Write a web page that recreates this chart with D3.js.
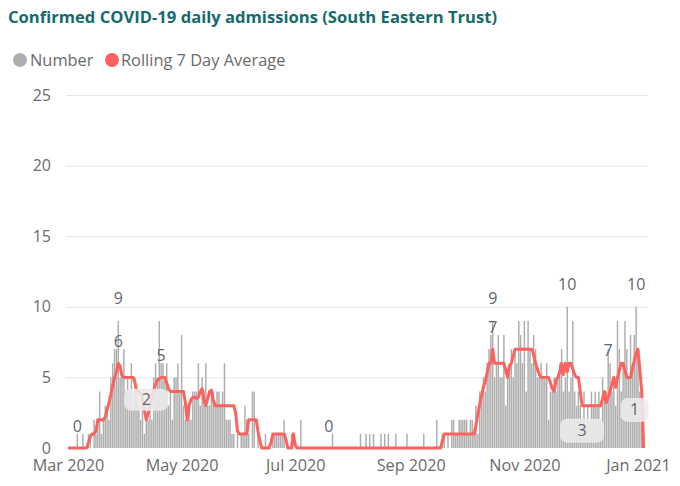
<!DOCTYPE html>
<html>
<head>
<meta charset="utf-8">
<script src="https://cdn.jsdelivr.net/npm/d3@7"></script>
<style>
  html, body { margin: 0; padding: 0; background: #fff; }
  svg { display: block; font-family: "Segoe UI", "Open Sans", "Noto Sans", sans-serif; }
</style>
</head>
<body>
<svg id="chart" width="680" height="486"></svg>
<script>
// Daily confirmed admissions, one array per month, starting 1 March 2020
const marCounts = [0,0,0,0,0,1,0,0,1,0, 0,1,1,0,2,1,2,4,1,2, 3,3,2,5,6,7,7,9,5,5, 7];
const aprCounts = [4,5,4,6,3,5,4,3,2,4, 1,2,2,3,2,5,6,5,9,6, 6,5,6,3,4,2,5,5,6,4];
const mayCounts = [8,3,2,2,3,2,4,4,4,6, 3,5,4,6,3,3,4,4,3,4, 4,3,4,6,2,2,2,1,1,0, 1];
const junCounts = [0,1,1,3,2,1,0,4,4,0, 1,0,0,0,1,0,0,0,1,1, 1,1,1,1,2,0,0,0,1,0];
const julCounts = [0,0,0,2,0,0,0,0,0,0, 0,0,0,0,0,0,0,0,0,0, 1,0,0,0,0,0,0,0,0,0, 0];
const augCounts = [0,0,0,0,1,0,0,1,0,1, 0,1,0,0,0,1,0,1,0,1, 0,0,0,1,0,0,0,0,0,1, 0];
const sepCounts = [0,0,0,0,0,0,0,1,0,0, 0,0,0,0,2,0,0,1,1,0, 1,0,2,2,1,1,2,2,2,2];
const octCounts = [2,1,2,2,1,3,1,4,4,5, 4,6,7,8,9,5,6,8,5,5, 8,3,5,6,7,5,7,6,9,8, 6];
const novCounts = [9,4,9,7,6,8,7,5,5,6, 5,5,6,2,4,4,5,4,5,6, 7,4,5,10,4,5,9,4,3,4];
const decCounts = [3,2,4,2,3,2,4,3,4,3, 4,2,5,4,4,7,6,4,5,3, 9,7,4,6,9,7,5,8,6,8, 10];
const janCounts = [7,4,3,1];

// Rolling 7 day average, same days
const marAverage = [0,0,0,0,0,0,0,0,0,0, 0,0.4,0.8,1,1,1.2,2,2,2,2, 2.2,2.7,3.2,3.8,4.4,5,5.4,6,5.8,5.1, 5];
const aprAverage = [5,5,5,5,5,4.6,4,4,3.9,3.4, 2.7,2,2.4,3,3.6,4.1,4.5,4.8,4.9,5, 5,5,4.6,4.2,4,4,4,4,4,4];
const mayAverage = [4,4,3.2,2,3,3.4,3.6,3.6,3.5,3.6, 4,4.2,3.4,3,3.5,4,4.1,3.4,3,3, 3,3,3,3,3,3,3,3,3,2.5, 1.2];
const junAverage = [1,1,1,1,1,2,2,2,2,2, 1.2,0.5,0,0,0,0,0,0.4,1,1, 1,1,1,1,1,0.6,0,0,0,1];
const julAverage = [0.2,0,0,0,0,0,0,0,0,0, 0,0,0,0,0,0,0,0,0,0, 0,0,0,0,0,0,0,0,0,0, 0];
const augAverage = [0,0,0,0,0,0,0,0,0,0, 0,0,0,0,0,0,0,0,0,0, 0,0,0,0,0,0,0,0,0,0, 0];
const sepAverage = [0,0,0,0,0,0,0,0,0,0, 0,0,0,0,0,0,0,0.5,1,1, 1,1,1,1,1,1,1,1,1,1];
const octAverage = [1,1,1,1,1,1.6,2.4,3.1,3.7,4.3, 4.7,5.3,6,6,7,6,6,6,6,6, 6,5.5,5,5.8,6,6.5,7,7,7,7, 7];
const novAverage = [7,7,7,7,7,6.6,6,5.6,5.2,5, 5,5,5,5,4.6,4.2,4,4.8,5,5.4, 6,5.2,6,5.4,6,6,5.6,5.2,5,5];
const decAverage = [4,3,3,3,3,3,3,3,3,3, 3,3,3.5,4,3.2,3.6,4,4.5,5,4.3, 5,5.5,6,6,5.5,5,5,5,5.6,6.2, 6.7];
const janAverage = [7,5.5,4,0];

// Axis ticks
const yTicks = [0, 5, 10, 15, 20, 25];
const xTickDates = ["2020-03-01", "2020-05-01", "2020-07-01", "2020-09-01", "2020-11-01", "2021-01-01"];
const legendItems = ["Number", "Rolling 7 Day Average"];

// Data labels: day index from 1 March 2020 and the series whose value is shown
const labelDays   = [5,     27,     27,    42,    50,    140,   228,    228,   268,    276,   290,    305,    309];
const labelSeries = ["avg", "count","avg", "avg", "avg", "avg", "count","avg", "count","avg", "count","count","count"];

const counts = [].concat(marCounts, aprCounts, mayCounts, junCounts, julCounts, augCounts,
                         sepCounts, octCounts, novCounts, decCounts, janCounts);
const averages = [].concat(marAverage, aprAverage, mayAverage, junAverage, julAverage, augAverage,
                           sepAverage, octAverage, novAverage, decAverage, janAverage);
const firstDay = new Date(2020, 2, 1);
const rows = counts.map((c, i) => ({ date: d3.timeDay.offset(firstDay, i), count: c, avg: averages[i] }));

const svg = d3.select("#chart");
const parse = d3.timeParse("%Y-%m-%d");
const fontStack = "\"Segoe UI\", \"Open Sans\", \"Noto Sans\", sans-serif";

const x = d3.scaleTime()
  .domain([parse("2020-03-01"), parse("2021-01-01")])
  .range([68, 638]);
const y = d3.scaleLinear().domain([0, 25]).range([448, 95]);

const grey = "#adadad";
const red = "#fd625e";
const textGrey = "#6b6b6b";

// Title
svg.append("text")
  .attr("x", 8).attr("y", 23)
  .attr("font-size", 16.6).attr("font-weight", 700)
  .attr("fill", "#156b6b")
  .text("Confirmed COVID-19 daily admissions (South Eastern Trust)");

// Legend
const legend = svg.append("g").attr("font-size", 16.4).attr("fill", textGrey);
legend.append("circle").attr("cx", 20).attr("cy", 60).attr("r", 7).attr("fill", grey);
legend.append("text").attr("x", 30).attr("y", 66).text(legendItems[0]);
legend.append("circle").attr("cx", 112).attr("cy", 60).attr("r", 7).attr("fill", red);
legend.append("text").attr("x", 121).attr("y", 66).text(legendItems[1]);

// Gridlines
svg.append("g")
  .selectAll("line")
  .data(yTicks.filter(t => t > 0))
  .join("line")
  .attr("x1", 66).attr("x2", 648)
  .attr("y1", d => y(d) + 0.5).attr("y2", d => y(d) + 0.5)
  .attr("stroke", "#e6e6e6").attr("stroke-width", 1);

// Y axis
const yAxis = svg.append("g")
  .attr("transform", "translate(51,0)")
  .call(d3.axisLeft(y).tickValues(yTicks).tickSize(0).tickPadding(0));
yAxis.select(".domain").remove();
yAxis.selectAll("text")
  .attr("font-size", 16).attr("fill", textGrey)
  .attr("font-family", fontStack);

// X axis
const xAxis = svg.append("g")
  .attr("transform", "translate(0,458)")
  .call(d3.axisBottom(x).tickValues(xTickDates.map(parse)).tickFormat(d3.timeFormat("%b %Y")).tickSize(0).tickPadding(1));
xAxis.select(".domain").remove();
xAxis.selectAll("text")
  .attr("font-size", 16.2).attr("fill", textGrey)
  .attr("font-family", fontStack);

// Daily bars
const dayStep = x(d3.timeDay.offset(firstDay, 1)) - x(firstDay);
const barW = dayStep * 0.78;
svg.append("g")
  .selectAll("rect")
  .data(rows)
  .join("rect")
  .attr("x", d => x(d.date) - barW / 2)
  .attr("width", barW)
  .attr("y", d => y(d.count))
  .attr("height", d => y(0) - y(d.count))
  .attr("fill", grey);

// Rolling average line
svg.append("path")
  .datum(rows)
  .attr("fill", "none")
  .attr("stroke", red)
  .attr("stroke-width", 3)
  .attr("stroke-linejoin", "round")
  .attr("d", d3.line().x(d => x(d.date)).y(d => y(d.avg)));

// Data labels; a few sit on a rounded background
const boxed = { 42: { w: 44, h: 22, dy: -20, dx: 0 }, 276: { w: 44, h: 24, dy: 25, dx: 0 }, 309: { w: 28, h: 24, dy: -24, dx: -9 } };
const inside = { 290: 1 };
const labels = svg.append("g").attr("font-size", 16).attr("fill", "#5f6670").attr("text-anchor", "middle");
labelDays.forEach((day, i) => {
  const row = rows[day];
  const value = labelSeries[i] === "avg" ? row.avg : row.count;
  let cx = x(row.date);
  let cy = y(value) - 22;
  if (boxed[day]) {
    const b = boxed[day];
    cx += b.dx;
    cy = y(value) + b.dy;
    labels.append("rect")
      .attr("x", cx - b.w / 2).attr("y", cy - b.h / 2)
      .attr("width", b.w).attr("height", b.h)
      .attr("rx", 7)
      .attr("fill", "#ececec").attr("fill-opacity", 0.88);
  } else if (inside[day] && labelSeries[i] === "count") {
    cy = y(value) + inside[day];
  }
  labels.append("text")
    .attr("x", cx).attr("y", cy + 5.5)
    .text(value);
});
</script>
</body>
</html>
